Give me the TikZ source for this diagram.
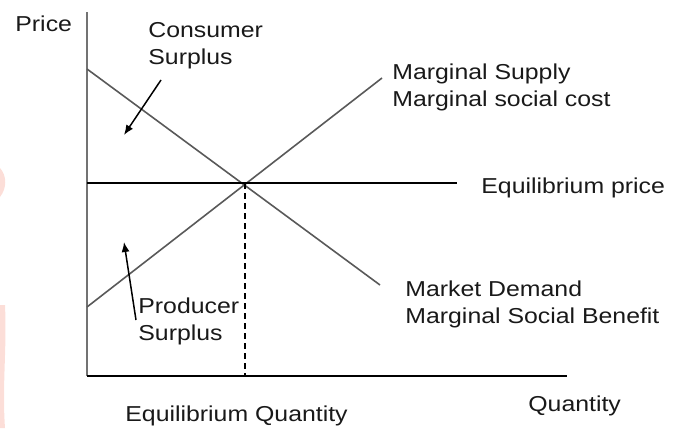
\documentclass[tikz,border=0pt]{standalone}
\usepackage{fontspec}
\setmainfont[FakeStretch=1.15]{Liberation Sans}
\usetikzlibrary{arrows.meta}

\definecolor{rosado}{RGB}{252,222,216}

\tikzset{
  etiqueta/.style={anchor=north west, inner sep=0pt, align=left, text=black!90,
    font=\fontsize{10.8}{13.5}\selectfont},
  curva/.style={draw=black!65, line width=0.8pt},
  flecha/.style={-{Latex[length=5pt,width=4pt]}, line width=0.75pt},
}

\begin{document}
\begin{tikzpicture}[x=0.5pt,y=-0.5pt]
        \useasboundingbox (0,0) rectangle (684,428);

        % ~~~~ Marca de agua ~~~~ %
        \fill[rosado] (0,168) .. controls (7,176) and (7,188) .. (0,197) -- cycle;
        \fill[rosado] (0,305) -- (5,305) .. controls (7,350) and (2,385) .. (5,428) -- (0,428) -- cycle;

        % ~~~~ Ejes ~~~~ %
        \coordinate (O) at (87,376);
        \coordinate (ytop) at (87,12);
        \coordinate (xend) at (567,376);
        \draw[black!55, line width=1pt] (ytop) -- (O);
        \draw[line width=0.8pt] (O) -- (xend);

        % ~~~~ Oferta/Demanda ~~~~ %
        \coordinate (E) at (245,183);
        \coordinate (d0) at (87,69);
        \coordinate (d1) at (380,285);
        \coordinate (s0) at (87,307);
        \coordinate (s1) at (382,78);
        \coordinate (p0) at (87,183);
        \coordinate (p1) at (457,183);
        \coordinate (q0) at (245,376);
        \draw[curva] (d0) -- (d1);
        \draw[curva] (s0) -- (s1);
        \draw[line width=0.8pt] (p0) -- (p1);
        \draw[line width=0.75pt, dash pattern=on 3pt off 2pt] (E) -- (q0);

        % ~~~~ Etiquetas ~~~~ %
        \node[etiqueta] (precio) at (15,15) {Price};
        \node[etiqueta] (cons) at (148,22) {Consumer\\Surplus};
        \node[etiqueta] (oferta) at (392,63) {Marginal Supply\\Marginal social cost};
        \node[etiqueta] (peq) at (481,177) {Equilibrium price};
        \node[etiqueta] (demanda) at (405,280) {Market Demand\\Marginal Social Benefit};
        \node[etiqueta] (prod) at (138,297) {Producer\\Surplus};
        \node[etiqueta] (qeq) at (125,405) {Equilibrium Quantity};
        \node[etiqueta] (cant) at (528,395) {Quantity};

        % ~~~~ Flechas ~~~~ %
        \coordinate (c0) at (161,80);
        \coordinate (c1) at (124,135);
        \coordinate (r0) at (136,320);
        \coordinate (r1) at (124,242);
        \draw[flecha] (c0) -- (c1);
        \draw[flecha] (r0) -- (r1);
    \end{tikzpicture}
\end{document}
